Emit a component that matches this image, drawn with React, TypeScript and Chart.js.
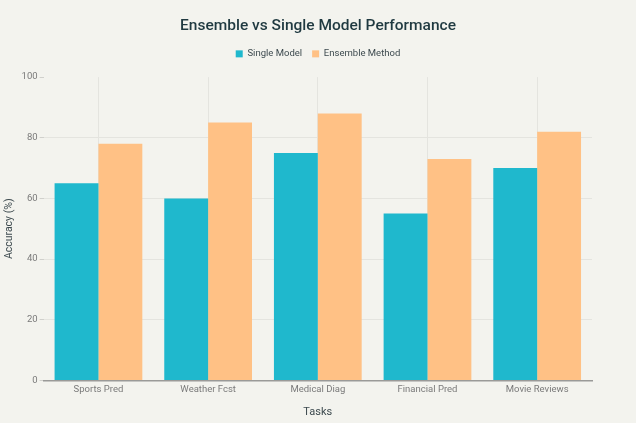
import React, { useEffect, useRef } from "react";
import { Chart, registerables } from "chart.js";

Chart.register(...registerables);

const categories = ["Sports Pred", "Weather Fcst", "Medical Diag", "Financial Pred", "Movie Reviews"];
const singleModel = [65, 60, 75, 55, 70];
const ensembleMethod = [78, 85, 88, 73, 82];
const yTicks = [0, 20, 40, 60, 80, 100];

const FONT = "Roboto, 'Liberation Sans', sans-serif";
const BG = "#f3f3ee";
const GRID = "#e4e4df";

const bgPlugin = {
  id: "bg",
  beforeDraw(chart: any) {
    const { ctx, width, height } = chart;
    ctx.save();
    ctx.fillStyle = BG;
    ctx.fillRect(0, 0, width, height);
    ctx.restore();
  },
};

const legendSpacing = {
  id: "legendSpacing",
  beforeInit(chart: any) {
    const legend = chart.legend;
    if (!legend) return;
    const orig = legend.fit;
    legend.fit = function () {
      orig.call(this);
      this.height += 8.5;
    };
  },
};

export default function App() {
  const ref = useRef<HTMLCanvasElement | null>(null);
  useEffect(() => {
    if (!ref.current) return;
    const chart = new Chart(ref.current, {
      type: "bar",
      data: {
        labels: categories,
        datasets: [
          {
            label: "Single Model",
            data: singleModel,
            backgroundColor: "#1FB8CD",
            borderWidth: 0,
            categoryPercentage: 0.8,
            barPercentage: 1.0,
          },
          {
            label: "Ensemble Method",
            data: ensembleMethod,
            backgroundColor: "#FFC185",
            borderWidth: 0,
            categoryPercentage: 0.8,
            barPercentage: 1.0,
          },
        ],
      },
      options: {
        animation: false,
        responsive: false,
        maintainAspectRatio: false,
        layout: { padding: { left: 3, right: 3, top: 12.5, bottom: 4 } },
        plugins: {
          title: {
            display: true,
            text: "Ensemble vs Single Model Performance",
            color: "#1f3940",
            font: { family: FONT, size: 15.5, weight: "500" },
            padding: { top: 4, bottom: 4 },
          },
          legend: {
            display: true,
            position: "top",
            labels: {
              boxWidth: 7,
              boxHeight: 7,
              color: "#3d4a4f",
              font: { family: FONT, size: 9.5 },
              padding: 10,
            },
          },
          tooltip: { enabled: false },
        },
        scales: {
          x: {
            grid: {
              display: true,
              offset: false,
              color: GRID,
              drawTicks: false,
            },
            border: { display: true, color: "#9a9a98", width: 1.5 },
            ticks: {
              color: "#7a7a7a",
              font: { family: FONT, size: 9.5 },
              padding: 4,
            },
            title: {
              display: true,
              text: "Tasks",
              color: "#3d4a4f",
              font: { family: FONT, size: 11 },
              padding: { top: 6, bottom: 0 },
            },
          },
          y: {
            min: 0,
            max: 100,
            afterBuildTicks(axis: any) {
              axis.ticks = yTicks.map((v) => ({ value: v }));
            },
            grid: {
              display: true,
              color: (ctx: any) => (ctx.tick && ctx.tick.value === 100 ? "rgba(0,0,0,0)" : GRID),
              tickLength: 4,
              tickColor: "#d0d0cc",
            },
            border: { display: false },
            ticks: {
              color: "#7a7a7a",
              font: { family: FONT, size: 9.5 },
              padding: 2,
            },
            title: {
              display: true,
              text: "Accuracy (%)",
              color: "#3d4a4f",
              font: { family: FONT, size: 10.5 },
              padding: { top: 0, bottom: 4 },
            },
          },
          yRight: {
            position: "right",
            display: true,
            min: 0,
            max: 100,
            grid: { display: false },
            border: { display: false },
            ticks: { display: false },
            afterFit(axis: any) {
              axis.width = 41;
            },
          },
        },
      },
      plugins: [bgPlugin, legendSpacing],
    });
    return () => chart.destroy();
  }, []);
  return (
    <div style={{ position: "absolute", left: 0, top: 0, width: 636, height: 423, background: BG }}>
      <canvas ref={ref} width={636} height={423} style={{ width: 636, height: 423, display: "block" }} />
    </div>
  );
}
